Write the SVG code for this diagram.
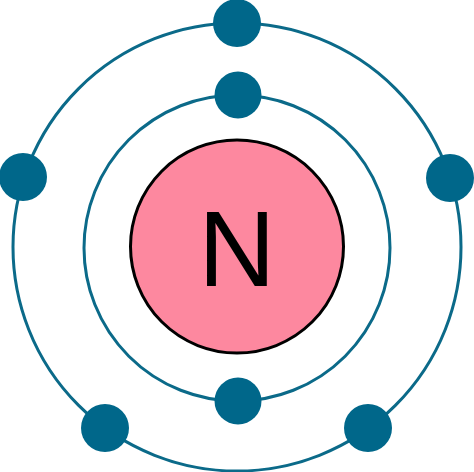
<svg xmlns="http://www.w3.org/2000/svg" width="474" height="472" viewBox="0 0 474 472">
<style>
.orbit{fill:none;stroke:#0B6A89;stroke-width:3}
.e{fill:#00678A}
</style>
<rect width="474" height="472" fill="#fff"/>
<g id="orbits">
<circle class="orbit" cx="237" cy="247" r="224"/>
<circle class="orbit" cx="237" cy="248" r="153"/>
</g>
<g id="nucleus">
<circle cx="237" cy="246.5" r="106.5" fill="#FD889F" stroke="#000" stroke-width="3"/>
<text x="237" y="286" text-anchor="middle" font-family="Liberation Sans, Arial, sans-serif" font-size="107" fill="#000">N</text>
</g>
<g id="electrons">
<circle class="e" cx="237" cy="23" r="24"/>
<circle class="e" cx="238" cy="95" r="23.5"/>
<circle class="e" cx="23" cy="177" r="24"/>
<circle class="e" cx="450" cy="178" r="24"/>
<circle class="e" cx="238" cy="401" r="23.5"/>
<circle class="e" cx="105" cy="428" r="24"/>
<circle class="e" cx="368" cy="428" r="24"/>
</g>
</svg>
